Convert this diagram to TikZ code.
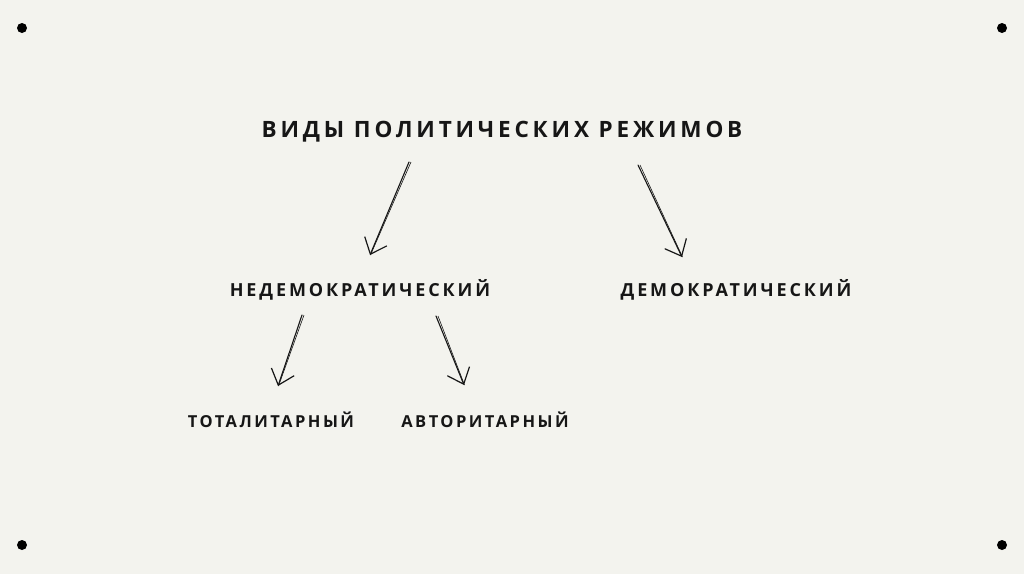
\documentclass[tikz,border=0pt]{standalone}
\usepackage{fontspec}
\setmainfont{Open Sans}
\newfontfamily\titlefont[LetterSpace=17]{Open Sans}
\newfontfamily\kindfont[LetterSpace=16]{Open Sans}
\newfontfamily\subkindfont[LetterSpace=15]{Open Sans}
\usetikzlibrary{arrows.meta}
\definecolor{paper}{RGB}{243,243,238}
\definecolor{ink}{RGB}{22,22,22}
\tikzset{
  title/.style={text=ink, font=\titlefont\bfseries\fontsize{22.5}{26}\selectfont},
  kind/.style={text=ink, font=\kindfont\bfseries\fontsize{18}{21}\selectfont},
  subkind/.style={text=ink, font=\subkindfont\bfseries\fontsize{16.5}{19}\selectfont},
  sketch/.style={draw=ink, line width=1.1pt, line cap=round,
    -{Straight Barb[length=14pt,width=24pt,line width=1.2pt]}},
}
\begin{document}
\begin{tikzpicture}[x=1pt, y=-1pt]
            % Background
            \fill[paper] (0,0) rectangle (1024,574);
            \foreach \x/\y in {22/28,1002/28,22/545,1002/545} {
                \fill[black] (\x,\y) circle (5);
            }
            % Labels
            \node[title] (title) at (502,132) {ВИДЫ ПОЛИТИЧЕСКИХ РЕЖИМОВ};
            \node[kind] (nondem) at (360,290) {НЕДЕМОКРАТИЧЕСКИЙ};
            \node[kind] (dem) at (736,290) {ДЕМОКРАТИЧЕСКИЙ};
            \node[subkind] (total) at (271,420) {ТОТАЛИТАРНЫЙ};
            \node[subkind] (auth) at (485,420) {АВТОРИТАРНЫЙ};
            % Arrow ends
            \coordinate (title-l) at (409,162);
            \coordinate (nondem-t) at (370,255);
            \coordinate (title-r) at (638,165);
            \coordinate (dem-t) at (682,257);
            \coordinate (nondem-l) at (302,315);
            \coordinate (total-t) at (278,386);
            \coordinate (nondem-r) at (436,316);
            \coordinate (auth-t) at (464,385);
            % Arrows
            \foreach \s/\e in {title-l/nondem-t,title-r/dem-t,nondem-l/total-t,nondem-r/auth-t} {
                \draw[sketch] (\s) -- (\e);
                \draw[ink, line width=0.6pt] ([xshift=2pt]\s) -- ([xshift=0.5pt]\e);
            }
        \end{tikzpicture}
\end{document}
